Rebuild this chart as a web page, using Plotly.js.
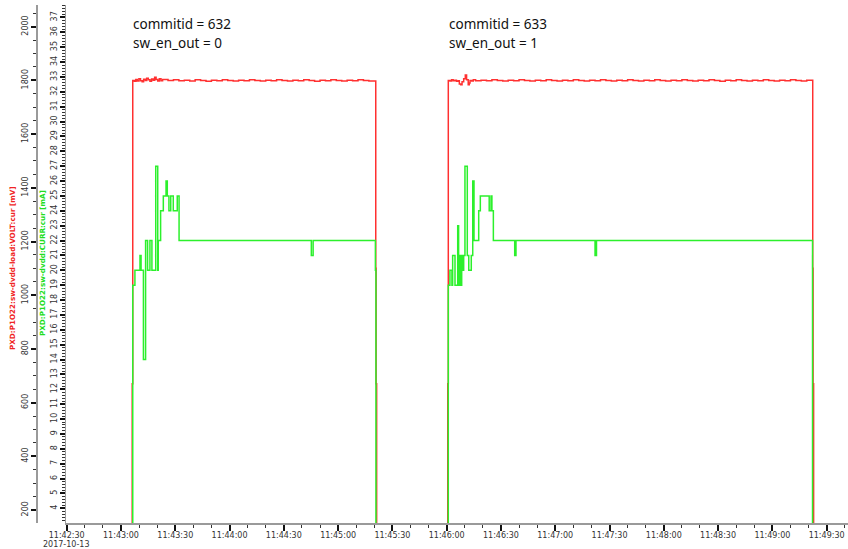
<!DOCTYPE html>
<html>
<head>
<meta charset="utf-8">
<script src="https://cdn.plot.ly/plotly-3.0.1.min.js"></script>
<style>
  html, body { margin: 0; padding: 0; background: #fff; }
  #chart { width: 848px; height: 549px; }
</style>
</head>
<body>
<div id="chart"></div>
<script>
// Archived PV samples for 2017-10-13, two power-up runs.
const day = '2017-10-13 ';
const dayLabel = '2017-10-13';

// PXD:P1O22:sw-dvdd-load:VOLT:cur  (mV)
const voltTime = [
  '11:42:30.0',
  '11:43:06.2', '11:43:06.5', '11:43:07.4', '11:43:08.2', '11:43:09.0', '11:43:09.9', '11:43:10.8',
  '11:43:11.7', '11:43:12.5', '11:43:13.4', '11:43:14.2', '11:43:15.1', '11:43:16.0', '11:43:16.9',
  '11:43:17.8', '11:43:18.6', '11:43:19.4', '11:43:20.3', '11:43:21.2', '11:43:22.1', '11:43:23.0',
  '11:43:26', '11:43:29', '11:43:32', '11:43:35', '11:43:38', '11:43:41', '11:43:44', '11:43:47',
  '11:43:50', '11:43:53', '11:43:56', '11:43:59', '11:44:02', '11:44:05', '11:44:08', '11:44:11',
  '11:44:14', '11:44:17', '11:44:20', '11:44:23', '11:44:26', '11:44:29', '11:44:32', '11:44:35',
  '11:44:38', '11:44:41', '11:44:44', '11:44:47', '11:44:50', '11:44:53', '11:44:56', '11:44:59',
  '11:45:02', '11:45:05', '11:45:08', '11:45:11', '11:45:14', '11:45:17',
  '11:45:20.8', '11:45:21.0', '11:45:21.3',
  '11:46:00.6', '11:46:00.9', '11:46:01.8', '11:46:02.7', '11:46:03.6', '11:46:04.5', '11:46:05.4',
  '11:46:06.3', '11:46:07.0', '11:46:07.8', '11:46:08.5', '11:46:09.4', '11:46:10.3', '11:46:11.0',
  '11:46:11.9', '11:46:12.5', '11:46:12.9', '11:46:13.8', '11:46:14.7',
  '11:46:16', '11:46:19', '11:46:22', '11:46:25', '11:46:28', '11:46:31', '11:46:34', '11:46:37',
  '11:46:40', '11:46:43', '11:46:46', '11:46:49', '11:46:52', '11:46:55', '11:46:58', '11:47:01',
  '11:47:04', '11:47:07', '11:47:10', '11:47:13', '11:47:16', '11:47:19', '11:47:22', '11:47:25',
  '11:47:28', '11:47:31', '11:47:34', '11:47:37', '11:47:40', '11:47:43', '11:47:46', '11:47:49',
  '11:47:52', '11:47:55', '11:47:58', '11:48:01', '11:48:04', '11:48:07', '11:48:10', '11:48:13',
  '11:48:16', '11:48:19', '11:48:22', '11:48:25', '11:48:28', '11:48:31', '11:48:34', '11:48:37',
  '11:48:40', '11:48:43', '11:48:46', '11:48:49', '11:48:52', '11:48:55', '11:48:58', '11:49:01',
  '11:49:04', '11:49:07', '11:49:10', '11:49:13', '11:49:16', '11:49:19',
  '11:49:22.3', '11:49:22.5', '11:49:22.8',
  '11:49:41.8'
];
const voltMv = [
  0,
  670, 1800, 1797, 1803, 1798, 1806, 1799,
  1795, 1804, 1800, 1808, 1802, 1797, 1805,
  1801, 1812, 1803, 1798, 1806, 1799, 1803,
  1800, 1802, 1799, 1801, 1798, 1802, 1800, 1797,
  1801, 1799, 1802, 1800, 1798, 1801, 1799, 1802,
  1800, 1798, 1801, 1799, 1802, 1800, 1798, 1801,
  1799, 1802, 1800, 1797, 1801, 1799, 1802, 1800,
  1798, 1801, 1799, 1802, 1800, 1798,
  1100, 670, 0,
  670, 1800, 1798, 1802, 1799, 1801, 1797,
  1799, 1787, 1784, 1795, 1806, 1820, 1802,
  1784, 1790, 1800, 1798, 1802,
  1799, 1801, 1799, 1802, 1800, 1798, 1801, 1799,
  1802, 1800, 1798, 1801, 1799, 1802, 1800, 1798,
  1801, 1799, 1802, 1800, 1798, 1801, 1799, 1802,
  1800, 1798, 1801, 1799, 1802, 1800, 1798, 1801,
  1799, 1802, 1800, 1798, 1801, 1799, 1802, 1800,
  1798, 1801, 1799, 1802, 1800, 1797, 1801, 1799,
  1802, 1800, 1798, 1801, 1799, 1802, 1800, 1798,
  1801, 1799, 1802, 1800, 1798, 1801,
  1100, 670, 0,
  0
];

// PXD:P1O22:sw-dvdd:CURR:cur  (mA)
const currTime = [
  '11:42:30.0',
  '11:43:06.5', '11:43:07.7', '11:43:10.5', '11:43:11.1', '11:43:12.4', '11:43:13.6', '11:43:14.7',
  '11:43:16.0', '11:43:17.1', '11:43:19.2', '11:43:20.3', '11:43:20.6', '11:43:21.9', '11:43:23.4',
  '11:43:24.9', '11:43:25.6', '11:43:26.5', '11:43:27.5', '11:43:28.9', '11:43:31.1', '11:43:32.1',
  '11:44:45.2', '11:44:46.2', '11:45:20.6', '11:45:20.9',
  '11:46:00.9', '11:46:01.8', '11:46:02.9', '11:46:03.3', '11:46:04.6', '11:46:06.1', '11:46:06.6',
  '11:46:07.4', '11:46:07.7', '11:46:08.3', '11:46:08.8', '11:46:09.4', '11:46:10.1', '11:46:11.4',
  '11:46:12.2', '11:46:13.6', '11:46:14.4', '11:46:15.1', '11:46:17.7', '11:46:18.6', '11:46:23.5',
  '11:46:24.5', '11:46:25.0', '11:46:25.8', '11:46:37.6', '11:46:38.3', '11:47:22.0', '11:47:22.8',
  '11:49:22.2',
  '11:49:41.8'
];
const currMa = [
  0,
  19, 20, 21, 20, 14, 22, 20,
  22, 20, 27, 20, 22, 24, 25,
  26, 25, 24, 25, 24, 25, 22,
  21, 22, 20, 0,
  19, 20, 19, 21, 19, 23, 19,
  21, 19, 21, 20, 21, 27, 21,
  20, 21, 26, 22, 24, 25, 24,
  25, 24, 22, 21, 22, 21, 22,
  0,
  0
];

// per-run notes, drawn above each power-up
const runStart = ['11:43:06', '11:46:00.5'];
const runCommit = ['commitid = 632', 'commitid = 633'];
const runSwitch = ['sw_en_out = 0', 'sw_en_out = 1'];
const voltTitle = 'PXD:P1O22:sw-dvdd-load:VOLT:cur [mV]';
const currTitle = 'PXD:P1O22:sw-dvdd:CURR:cur [mA]';

const RED = '#ff3030';
const GREEN = '#2cf02c';

// page geometry (px)
const W = 848, H = 549, ML = 36, MR = 0, MT = 5, MB = 26;
const PW = W - ML - MR, PH = H - MT - MB;
const px2paperX = p => (p - ML) / PW;
const px2paperY = p => (H - MB - p) / PH;

const stamp = arr => arr.map(t => day + t);

const traces = [
  {
    type: 'scatter', mode: 'lines', name: voltTitle,
    x: stamp(voltTime), y: voltMv, yaxis: 'y',
    line: { color: RED, width: 1.5, shape: 'hv' },
    hoverinfo: 'x+y'
  },
  {
    type: 'scatter', mode: 'lines', name: currTitle,
    x: stamp(currTime), y: currMa, yaxis: 'y2',
    line: { color: GREEN, width: 1.5, shape: 'hv' },
    hoverinfo: 'x+y'
  }
];

const tickFont = { family: 'DejaVu Sans', size: 8, color: '#333' };
const noteFont = { family: 'Noto Sans', size: 13.5, color: '#111' };

const annotations = [];
runStart.forEach((t, i) => {
  annotations.push({
    xref: 'x', yref: 'paper', x: day + t, y: px2paperY(24), xshift: -1,
    xanchor: 'left', yanchor: 'middle', align: 'left', showarrow: false,
    text: runCommit[i], font: noteFont
  });
  annotations.push({
    xref: 'x', yref: 'paper', x: day + t, y: px2paperY(43), xshift: -1,
    xanchor: 'left', yanchor: 'middle', align: 'left', showarrow: false,
    text: runSwitch[i], font: noteFont
  });
});
annotations.push(
  {
    xref: 'paper', yref: 'paper', x: px2paperX(12), y: px2paperY(268),
    xanchor: 'center', yanchor: 'middle', textangle: -90, showarrow: false,
    text: voltTitle, font: { family: 'DejaVu Sans', size: 7.2, weight: 'bold', color: '#f02424' }
  },
  {
    xref: 'paper', yref: 'paper', x: px2paperX(42), y: px2paperY(263),
    xanchor: 'center', yanchor: 'middle', textangle: -90, showarrow: false,
    text: currTitle, font: { family: 'DejaVu Sans', size: 7.2, weight: 'bold', color: '#22dd22' }
  },
  {
    xref: 'x', yref: 'paper', x: day + '11:42:30', y: px2paperY(544),
    xanchor: 'center', yanchor: 'middle', showarrow: false,
    text: dayLabel, font: tickFont
  }
);

const layout = {
  width: W, height: H,
  margin: { l: ML, r: MR, t: MT, b: MB, pad: 0 },
  paper_bgcolor: '#fff', plot_bgcolor: '#fff',
  showlegend: false,
  xaxis: {
    type: 'date',
    domain: [px2paperX(66.25), 1],
    range: [day + '11:42:29.75', day + '11:49:41.8'],
    tick0: day + '11:42:30', dtick: 30000,
    tickformat: '%H:%M:%S',
    ticks: 'outside', ticklen: 6, tickwidth: 2, tickcolor: '#111',
    ticklabelstandoff: -2,
    minor: { dtick: 10000, ticks: 'outside', ticklen: 3, tickwidth: 1, tickcolor: '#333' },
    showline: true, linecolor: '#9a9a9a', linewidth: 1.5,
    showgrid: false, zeroline: false,
    tickfont: tickFont, automargin: false
  },
  yaxis: {
    anchor: 'free', position: 0, side: 'left',
    range: [151.6, 2080.8],
    tick0: 0, dtick: 200,
    ticks: 'outside', ticklen: 5, tickwidth: 2, tickcolor: '#111',
    minor: { dtick: 50, ticks: 'outside', ticklen: 3, tickwidth: 1, tickcolor: '#333' },
    showline: true, linecolor: '#9a9a9a', linewidth: 1.5,
    showgrid: false, zeroline: false,
    tickangle: -90, tickfont: tickFont, automargin: false
  },
  yaxis2: {
    overlaying: 'y', anchor: 'x', side: 'left',
    range: [3.01, 37.84],
    tick0: 0, dtick: 1,
    ticks: 'outside', ticklen: 5, tickwidth: 2, tickcolor: '#111',
    minor: { dtick: 0.2, ticks: 'outside', ticklen: 2.5, tickwidth: 1, tickcolor: '#333' },
    showline: true, linecolor: '#9a9a9a', linewidth: 1.5,
    showgrid: false, zeroline: false,
    tickangle: -90, tickfont: tickFont, automargin: false
  },
  annotations: annotations
};

Plotly.newPlot('chart', traces, layout, { displayModeBar: false, responsive: false, staticPlot: true });
</script>
</body>
</html>
